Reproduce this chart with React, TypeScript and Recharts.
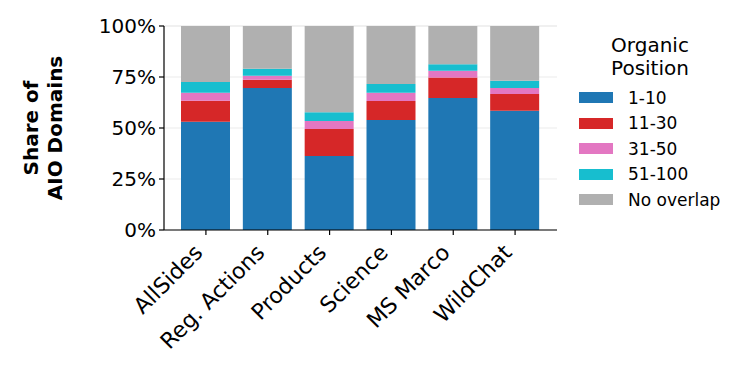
import React from 'react'
import { BarChart, Bar, XAxis, YAxis, CartesianGrid } from 'recharts'

const categories = ['AllSides', 'Reg. Actions', 'Products', 'Science', 'MS Marco', 'WildChat']
const pos1to10 = [53.1, 69.6, 36.3, 53.9, 64.7, 58.5]
const pos11to30 = [10.3, 4.1, 13.2, 9.3, 10.1, 8.2]
const pos31to50 = [3.9, 1.9, 3.9, 4.1, 3.3, 2.9]
const pos51to100 = [5.2, 3.5, 4.3, 4.3, 3.1, 3.6]
const noOverlap = [27.5, 20.9, 42.3, 28.4, 18.8, 26.8]
const yTicks = [0, 25, 50, 75, 100]

const series = [
  { key: 'p1', name: '1-10', color: '#1f77b4', values: pos1to10 },
  { key: 'p2', name: '11-30', color: '#d62728', values: pos11to30 },
  { key: 'p3', name: '31-50', color: '#e377c2', values: pos31to50 },
  { key: 'p4', name: '51-100', color: '#17becf', values: pos51to100 },
  { key: 'none', name: 'No overlap', color: '#b0b0b0', values: noOverlap },
]

const data = categories.map((c, i) => {
  const row: any = { name: c }
  series.forEach(s => { row[s.key] = s.values[i] })
  return row
})

const FONT = 'DejaVu Sans, sans-serif'

// rotated category label, right end pinned just under the tick
const XTick = (props: any) => {
  const { x, y, payload } = props
  const tx = x - 2
  const ty = y + 17
  return (
    <text x={tx} y={ty} transform={`rotate(-45, ${tx}, ${ty})`} textAnchor="end"
      fontSize={22} fontFamily={FONT} fill="#000">
      {payload.value}
    </text>
  )
}

const LegendBox = () => (
  <div style={{ position: 'absolute', left: 560, top: 34, fontFamily: FONT, color: '#000', width: 180 }}>
    <div style={{ fontSize: 20, lineHeight: '23px', textAlign: 'center', width: 180, marginBottom: 5 }}>
      Organic<br />Position
    </div>
    {series.map(s => (
      <div key={s.key} style={{ display: 'flex', alignItems: 'center', height: 25.5 }}>
        <div style={{ width: 34, height: 11, background: s.color, marginLeft: 19, marginRight: 15 }} />
        <span style={{ fontSize: 17 }}>{s.name}</span>
      </div>
    ))}
  </div>
)

export default function App() {
  return (
    <div style={{ position: 'absolute', left: 0, top: 0, width: 753, height: 377, background: '#fff' }}>
      <BarChart width={753} height={377} data={data}
        margin={{ top: 26, right: 196, bottom: 0, left: 0 }} barSize={49}>
        <CartesianGrid vertical={false} stroke="#ebebeb" strokeWidth={1} />
        <XAxis dataKey="name" interval={0} height={147} padding={{ left: 11, right: 11 }}
          axisLine={{ stroke: '#000', strokeWidth: 1.2 }} tickLine={{ stroke: '#000', strokeWidth: 1.2 }}
          tickSize={5} tickMargin={2} tick={<XTick />} />
        <YAxis width={164} domain={[0, 100]} ticks={yTicks} tickFormatter={(v: number) => `${v}%`}
          axisLine={{ stroke: '#000', strokeWidth: 1.2 }} tickLine={{ stroke: '#000', strokeWidth: 1.2 }}
          tickSize={5} tickMargin={3}
          tick={{ fontSize: 20, fontFamily: FONT, fill: '#000' }} />
        {series.map(s => (
          <Bar key={s.key} dataKey={s.key} name={s.name} stackId="a" fill={s.color} isAnimationActive={false} />
        ))}
        <text transform="translate(31, 128) rotate(-90)" textAnchor="middle" fontSize={20}
          fontWeight="bold" fontFamily={FONT} fill="#000" dominantBaseline="central">
          Share of
        </text>
        <text transform="translate(55, 128) rotate(-90)" textAnchor="middle" fontSize={20}
          fontWeight="bold" fontFamily={FONT} fill="#000" dominantBaseline="central">
          AIO Domains
        </text>
      </BarChart>
      <LegendBox />
    </div>
  )
}
